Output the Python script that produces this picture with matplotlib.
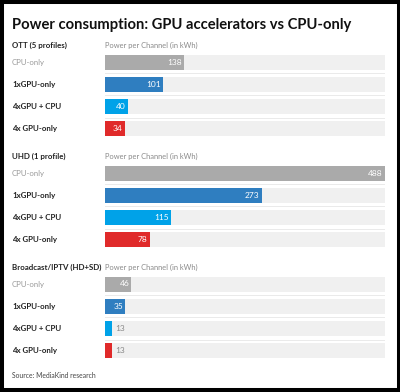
#!/usr/bin/env python3
"""Power consumption per channel: GPU accelerators vs CPU-only."""

import matplotlib

matplotlib.use("Agg")
import matplotlib.pyplot as plt
from matplotlib.patches import Rectangle
from matplotlib.transforms import blended_transform_factory

SECTIONS = ["OTT (5 profiles)", "UHD (1 profile)", "Broadcast/IPTV (HD+SD)"]
CATEGORIES = ["CPU-only", "1xGPU-only", "4xGPU + CPU", "4x GPU-only"]
OTT_VALUES = [138, 101, 40, 34]
UHD_VALUES = [488, 273, 115, 78]
BROADCAST_VALUES = [46, 35, 13, 13]
AXIS_LABEL = "Power per Channel (in kWh)"
TITLE = "Power consumption: GPU accelerators vs CPU-only"
SOURCE = "Source: MediaKind research"

BAR_COLORS = ["#aaaaaa", "#2f7ec0", "#00a2e8", "#e02a2a"]
TRACK_COLOR = "#f0f0f0"
FONT = "Lato"

W, H = 400, 392
X0, X1 = 105, 385          # bar area in pixels
SECTION_TOP = [45, 156, 267]
ROW_OFFSET, ROW_STEP, BAR_H = 17, 22.2, 15

fig = plt.figure(figsize=(W / 100, H / 100), dpi=100)
ax = fig.add_axes([X0 / W, 0, (X1 - X0) / W, 1])
xmax = max(OTT_VALUES + UHD_VALUES + BROADCAST_VALUES)
ax.set_xlim(0, xmax)
ax.set_ylim(H, 0)
ax.axis("off")

# x in figure pixels, y in data (pixel rows)
lab = blended_transform_factory(fig.transFigure, ax.transData)
px = lambda p: p / W

for section, values, top in zip(SECTIONS, [OTT_VALUES, UHD_VALUES, BROADCAST_VALUES], SECTION_TOP):
    fig.text(px(12), 1 - top / H, section, fontsize=5.7, fontweight="bold",
             color="#222222", va="center", family=FONT)
    fig.text(px(X0), 1 - top / H, AXIS_LABEL, fontsize=5.4, color="#8a8a8a",
             va="center", family=FONT)
    ys = [top + ROW_OFFSET + ROW_STEP * i for i in range(len(values))]
    ax.barh(ys, [xmax] * len(values), height=BAR_H, color=TRACK_COLOR, zorder=1)
    ax.barh(ys, values, height=BAR_H, color=BAR_COLORS, zorder=2)
    for i, (cat, val, y) in enumerate(zip(CATEGORIES, values, ys)):
        if i == 0:
            ax.text(px(12), y, cat, transform=lab, fontsize=5.6, color="#9a9a9a",
                    va="center", family=FONT)
        else:
            ax.text(px(12), y, cat, transform=lab, fontsize=5.7, fontweight="bold",
                    color="#222222", va="center", family=FONT)
        if val * (X1 - X0) / xmax > 18:
            ax.annotate(str(val), (val, y), xytext=(-1.5, 0), textcoords="offset points",
                        ha="right", va="center", fontsize=6, color="white", family=FONT)
        else:
            ax.annotate(str(val), (val, y), xytext=(2, 0), textcoords="offset points",
                        ha="left", va="center", fontsize=6, color="#888888", family=FONT)
        if i < len(values) - 1:
            ax.plot([px(12), px(X1)], [y + ROW_STEP / 2] * 2, transform=lab,
                    color="#e6e6e6", lw=0.6, zorder=0)

fig.text(px(12), 1 - 25 / H, TITLE, fontsize=10.6, fontweight="bold",
         color="#111111", va="center", family=FONT)
fig.text(px(12), 1 - 375 / H, SOURCE, fontsize=4.9, color="#444444",
         va="center", family=FONT)

fig.patches.append(Rectangle((2 / W, 2 / H), 396.5 / W, 388 / H, fill=False,
                             ec="black", lw=2.9, transform=fig.transFigure))

fig.savefig("out.png", dpi=100, facecolor="white")
